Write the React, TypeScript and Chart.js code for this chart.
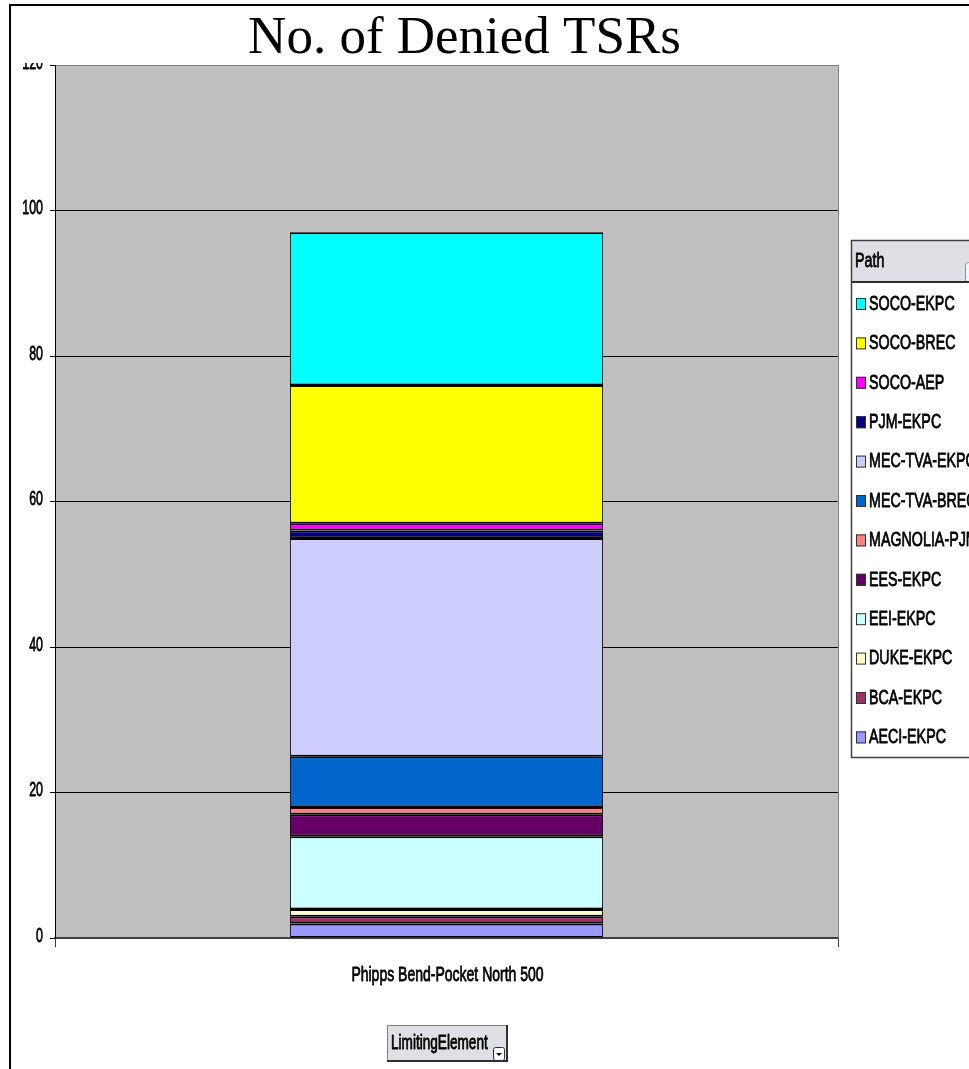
import React, { useEffect, useRef } from "react";
import { Chart, registerables } from "chart.js";

Chart.register(...registerables);

// ---------- data ----------
const categories = ["Phipps Bend-Pocket North 500"];
// stack order, bottom to top
const paths = [
  "AECI-EKPC",
  "BCA-EKPC",
  "DUKE-EKPC",
  "EEI-EKPC",
  "EES-EKPC",
  "MAGNOLIA-PJM",
  "MEC-TVA-BREC",
  "MEC-TVA-EKPC",
  "PJM-EKPC",
  "SOCO-AEP",
  "SOCO-BREC",
  "SOCO-EKPC",
];
const deniedCounts = [2, 1, 1, 10, 3, 1, 7, 30, 1, 1, 19, 21];
const pathColors = [
  "#9999FF",
  "#993366",
  "#FFFFCC",
  "#CCFFFF",
  "#660066",
  "#FF8080",
  "#0066CC",
  "#CCCCFF",
  "#000080",
  "#FF00FF",
  "#FFFF00",
  "#00FFFF",
];
const yMin = 0;
const yMax = 120;
const yStep = 20;
const chartTitle = "No. of Denied TSRs";
const legendTitle = "Path";
const fieldButtonLabel = "LimitingElement";

// ---------- helpers ----------
const SANS = '"Liberation Sans", Arial, Helvetica, sans-serif';
const SERIF = '"Liberation Serif", "Times New Roman", Times, serif';

function squeezeText(
  ctx: CanvasRenderingContext2D,
  text: string,
  x: number,
  y: number,
  size: number,
  sx: number,
  align: CanvasTextAlign
) {
  ctx.save();
  ctx.translate(x, y);
  ctx.scale(sx, 1);
  ctx.font = `${size}px ${SANS}`;
  ctx.textAlign = align;
  ctx.textBaseline = "middle";
  ctx.fillStyle = "#000";
  ctx.fillText(text, 0, 0);
  ctx.strokeStyle = "#000";
  ctx.lineWidth = 0.8;
  ctx.lineJoin = "round";
  ctx.strokeText(text, 0, 0);
  ctx.restore();
}

const decorPlugin = {
  id: "excelDecor",
  beforeDraw(chart: any) {
    const { ctx, chartArea, width, height } = chart;
    ctx.save();
    ctx.fillStyle = "#FFFFFF";
    ctx.fillRect(0, 0, width, height);
    // outer frame
    ctx.strokeStyle = "#000";
    ctx.lineWidth = 2;
    ctx.beginPath();
    ctx.moveTo(10, height);
    ctx.lineTo(10, 5);
    ctx.lineTo(width, 5);
    ctx.stroke();
    // plot area background
    ctx.fillStyle = "#C0C0C0";
    ctx.fillRect(
      chartArea.left,
      chartArea.top,
      chartArea.right - chartArea.left,
      chartArea.bottom - chartArea.top
    );
    ctx.restore();
  },
  afterDraw(chart: any) {
    const { ctx, chartArea, width } = chart;
    const yScale = chart.scales.y;
    const xScale = chart.scales.x;
    ctx.save();

    // right edge of plot area
    ctx.strokeStyle = "#808080";
    ctx.lineWidth = 1;
    ctx.beginPath();
    ctx.moveTo(chartArea.right + 0.5, chartArea.top);
    ctx.lineTo(chartArea.right + 0.5, chartArea.bottom);
    ctx.stroke();

    // title
    ctx.font = `53px ${SERIF}`;
    ctx.fillStyle = "#000";
    ctx.textAlign = "center";
    ctx.textBaseline = "alphabetic";
    ctx.fillText(chartTitle, 464.5, 53);

    // y tick labels (clipped at the top like the reference)
    ctx.save();
    ctx.beginPath();
    ctx.rect(0, 63, chartArea.left, chartArea.bottom);
    ctx.clip();
    yScale.ticks.forEach((t: any) => {
      const py = yScale.getPixelForValue(t.value);
      squeezeText(ctx, String(t.value), 43, py - 2, 20, 0.62, "right");
    });
    ctx.restore();

    // x category label
    categories.forEach((c, i) => {
      const px = xScale.getPixelForValue(i);
      squeezeText(ctx, c, px + 1, 975, 20, 0.7, "center");
    });

    // legend box
    const lx = 851;
    const ly = 240;
    const lb = 757;
    ctx.fillStyle = "#FFFFFF";
    ctx.fillRect(lx, ly, width - lx + 20, lb - ly);
    ctx.fillStyle = "#DFDFE6";
    ctx.fillRect(lx, ly, width - lx + 20, 41);
    // small drop-down in header
    ctx.beginPath();
    ctx.roundRect(965.5, 262.5, 20, 20, 3);
    ctx.fillStyle = "#F4F4F8";
    ctx.fill();
    ctx.strokeStyle = "#7F8FA8";
    ctx.lineWidth = 1;
    ctx.stroke();
    // header separator
    ctx.fillStyle = "#303030";
    ctx.fillRect(lx, ly + 41, width - lx + 20, 2);
    // outer border
    ctx.strokeStyle = "#404040";
    ctx.lineWidth = 1.5;
    ctx.strokeRect(lx + 0.5, ly + 0.5, width - lx + 20, lb - ly);
    squeezeText(ctx, legendTitle, 855, 261, 21, 0.68, "left");

    const ds = chart.data.datasets;
    const n = ds.length;
    for (let i = 0; i < n; i++) {
      const d = ds[n - 1 - i];
      const cy = 304 + i * 39.4;
      ctx.fillStyle = d.backgroundColor;
      ctx.fillRect(856, cy - 6, 10, 12);
      ctx.strokeStyle = "#333";
      ctx.lineWidth = 1;
      ctx.strokeRect(856.5, cy - 5.5, 9, 11);
      squeezeText(ctx, d.label, 869, cy, 21, 0.68, "left");
    }

    // "LimitingElement" field button
    const bx = 387;
    const by = 1025;
    const bw = 120;
    const bh = 36;
    ctx.fillStyle = "#E0E0E4";
    ctx.fillRect(bx, by, bw, bh);
    ctx.strokeStyle = "#808080";
    ctx.lineWidth = 1;
    ctx.strokeRect(bx + 0.5, by + 0.5, bw, bh);
    ctx.strokeStyle = "#303030";
    ctx.lineWidth = 2;
    ctx.beginPath();
    ctx.moveTo(bx + bw, by);
    ctx.lineTo(bx + bw, by + bh);
    ctx.lineTo(bx, by + bh);
    ctx.stroke();
    squeezeText(ctx, fieldButtonLabel, 391, 1043, 20, 0.68, "left");
    // drop-down icon
    ctx.beginPath();
    ctx.roundRect(493.5, 1047.5, 11, 13, 2);
    ctx.fillStyle = "#FFFFFF";
    ctx.fill();
    ctx.strokeStyle = "#203060";
    ctx.lineWidth = 1;
    ctx.stroke();
    ctx.fillStyle = "#000";
    ctx.beginPath();
    ctx.moveTo(496, 1053);
    ctx.lineTo(502, 1053);
    ctx.lineTo(499, 1056);
    ctx.closePath();
    ctx.fill();

    ctx.restore();
  },
};

export default function App() {
  const canvasRef = useRef<HTMLCanvasElement | null>(null);

  useEffect(() => {
    if (!canvasRef.current) return;
    const chart = new Chart(canvasRef.current, {
      type: "bar",
      data: {
        labels: categories,
        datasets: paths.map((p, i) => ({
          label: p,
          data: [deniedCounts[i]],
          backgroundColor: pathColors[i],
          borderColor: "#000000",
          borderWidth: { top: 2, bottom: 1.5, left: 1, right: 1 },
          borderSkipped: false,
          barPercentage: 0.4,
          categoryPercentage: 1,
        })),
      },
      options: {
        responsive: false,
        animation: false,
        devicePixelRatio: 1,
        layout: { padding: { left: 0, right: 131, top: 65, bottom: 131 } },
        plugins: {
          legend: { display: false },
          title: { display: false },
          tooltip: { enabled: false },
        },
        scales: {
          x: {
            stacked: true,
            offset: true,
            ticks: { display: false },
            grid: {
              display: true,
              offset: true,
              drawOnChartArea: false,
              drawTicks: true,
              tickLength: 9,
              color: "#404040",
              lineWidth: 1,
            },
            border: { display: true, color: "#404040", width: 2 },
            afterFit: (s: any) => {
              s.height = 0;
            },
          },
          y: {
            stacked: true,
            min: yMin,
            max: yMax,
            ticks: { stepSize: yStep, display: false },
            grid: {
              drawTicks: true,
              tickLength: 5,
              lineWidth: 1,
              color: (c: any) => (c.tick && c.tick.value === yMax ? "#808080" : "#000000"),
              tickColor: "#000000",
            },
            border: { display: true, color: "#000000", width: 1 },
            afterFit: (s: any) => {
              s.width = 55;
            },
          },
        },
      },
      plugins: [decorPlugin],
    } as any);
    return () => chart.destroy();
  }, []);

  return (
    <div
      style={{
        position: "fixed",
        left: 0,
        top: 0,
        width: 969,
        height: 1069,
        overflow: "hidden",
        background: "#fff",
      }}
    >
      <canvas ref={canvasRef} width={969} height={1069} style={{ display: "block" }} />
    </div>
  );
}
